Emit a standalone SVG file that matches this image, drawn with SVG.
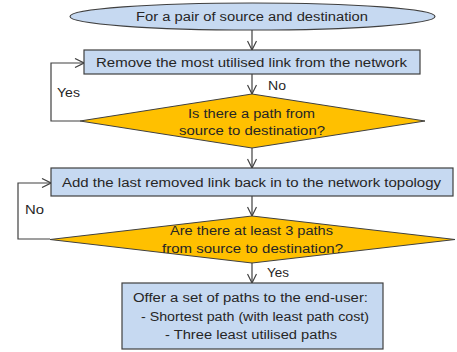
<svg xmlns="http://www.w3.org/2000/svg" width="457" height="352" viewBox="0 0 457 352">
<defs>
<marker id="arr" viewBox="0 0 10 10" refX="10" refY="5" markerWidth="10" markerHeight="10" markerUnits="userSpaceOnUse" orient="auto">
<path d="M1,0.5 L10,5 L1,9.5" fill="none" stroke="#404040" stroke-width="1.2"/>
</marker>
</defs>
<style>
.box{fill:#c6d9f1;stroke:#404040;stroke-width:1.2}
.dia{fill:#ffc000;stroke:#404040;stroke-width:1}
.t{font-family:"Liberation Sans",Arial,sans-serif;font-size:12.5px;fill:#262626}
.c{stroke:#404040;stroke-width:1.2;fill:none;marker-end:url(#arr)}
</style>
<rect width="457" height="352" fill="#ffffff"/>
<g id="connectors">
<path class="c" d="M252,30 V50"/>
<path class="c" d="M252,74 V94"/>
<path class="c" d="M80,121 H51 V63 H84"/>
<path class="c" d="M252,148 V168"/>
<path class="c" d="M252,196 V216"/>
<path class="c" d="M50,239 H18 V183 H51"/>
<path class="c" d="M252,262 V283"/>
<text class="t" x="268" y="90" textLength="18" lengthAdjust="spacingAndGlyphs">No</text>
<text class="t" x="57" y="97" textLength="23" lengthAdjust="spacingAndGlyphs">Yes</text>
<text class="t" x="25" y="214" textLength="19" lengthAdjust="spacingAndGlyphs">No</text>
<text class="t" x="267" y="277" textLength="22" lengthAdjust="spacingAndGlyphs">Yes</text>
</g>
<g id="start">
<ellipse class="box" cx="252.5" cy="16.5" rx="182.5" ry="13.5"/>
<text class="t" x="136" y="21" textLength="232" lengthAdjust="spacingAndGlyphs">For a pair of source and destination</text>
</g>
<g id="remove">
<rect class="box" x="84" y="50" width="336" height="24"/>
<text class="t" x="96" y="67" textLength="311" lengthAdjust="spacingAndGlyphs">Remove the most utilised link from the network</text>
</g>
<g id="decision1">
<polygon class="dia" points="252,94 425,121 252,148 80,121"/>
<text class="t" x="188" y="118" textLength="127" lengthAdjust="spacingAndGlyphs">Is there a path from</text>
<text class="t" x="179" y="135" textLength="146" lengthAdjust="spacingAndGlyphs">source to destination?</text>
</g>
<g id="addback">
<rect class="box" x="51" y="168" width="402" height="28"/>
<text class="t" x="62" y="187" textLength="379" lengthAdjust="spacingAndGlyphs">Add the last removed link back in to the network topology</text>
</g>
<g id="decision2">
<polygon class="dia" points="252,216 455,239.5 252,263 50,239.5"/>
<text class="t" x="170" y="235" textLength="163" lengthAdjust="spacingAndGlyphs">Are there at least 3 paths</text>
<text class="t" x="162" y="253" textLength="181" lengthAdjust="spacingAndGlyphs">from source to destination?</text>
</g>
<g id="offer">
<rect class="box" x="122" y="283" width="261" height="66"/>
<text class="t" x="133" y="302" textLength="235" lengthAdjust="spacingAndGlyphs">Offer a set of paths to the end-user:</text>
<text class="t" x="141" y="321" textLength="228" lengthAdjust="spacingAndGlyphs">- Shortest path (with least path cost)</text>
<text class="t" x="165" y="339" textLength="172" lengthAdjust="spacingAndGlyphs">- Three least utilised paths</text>
</g>
</svg>
